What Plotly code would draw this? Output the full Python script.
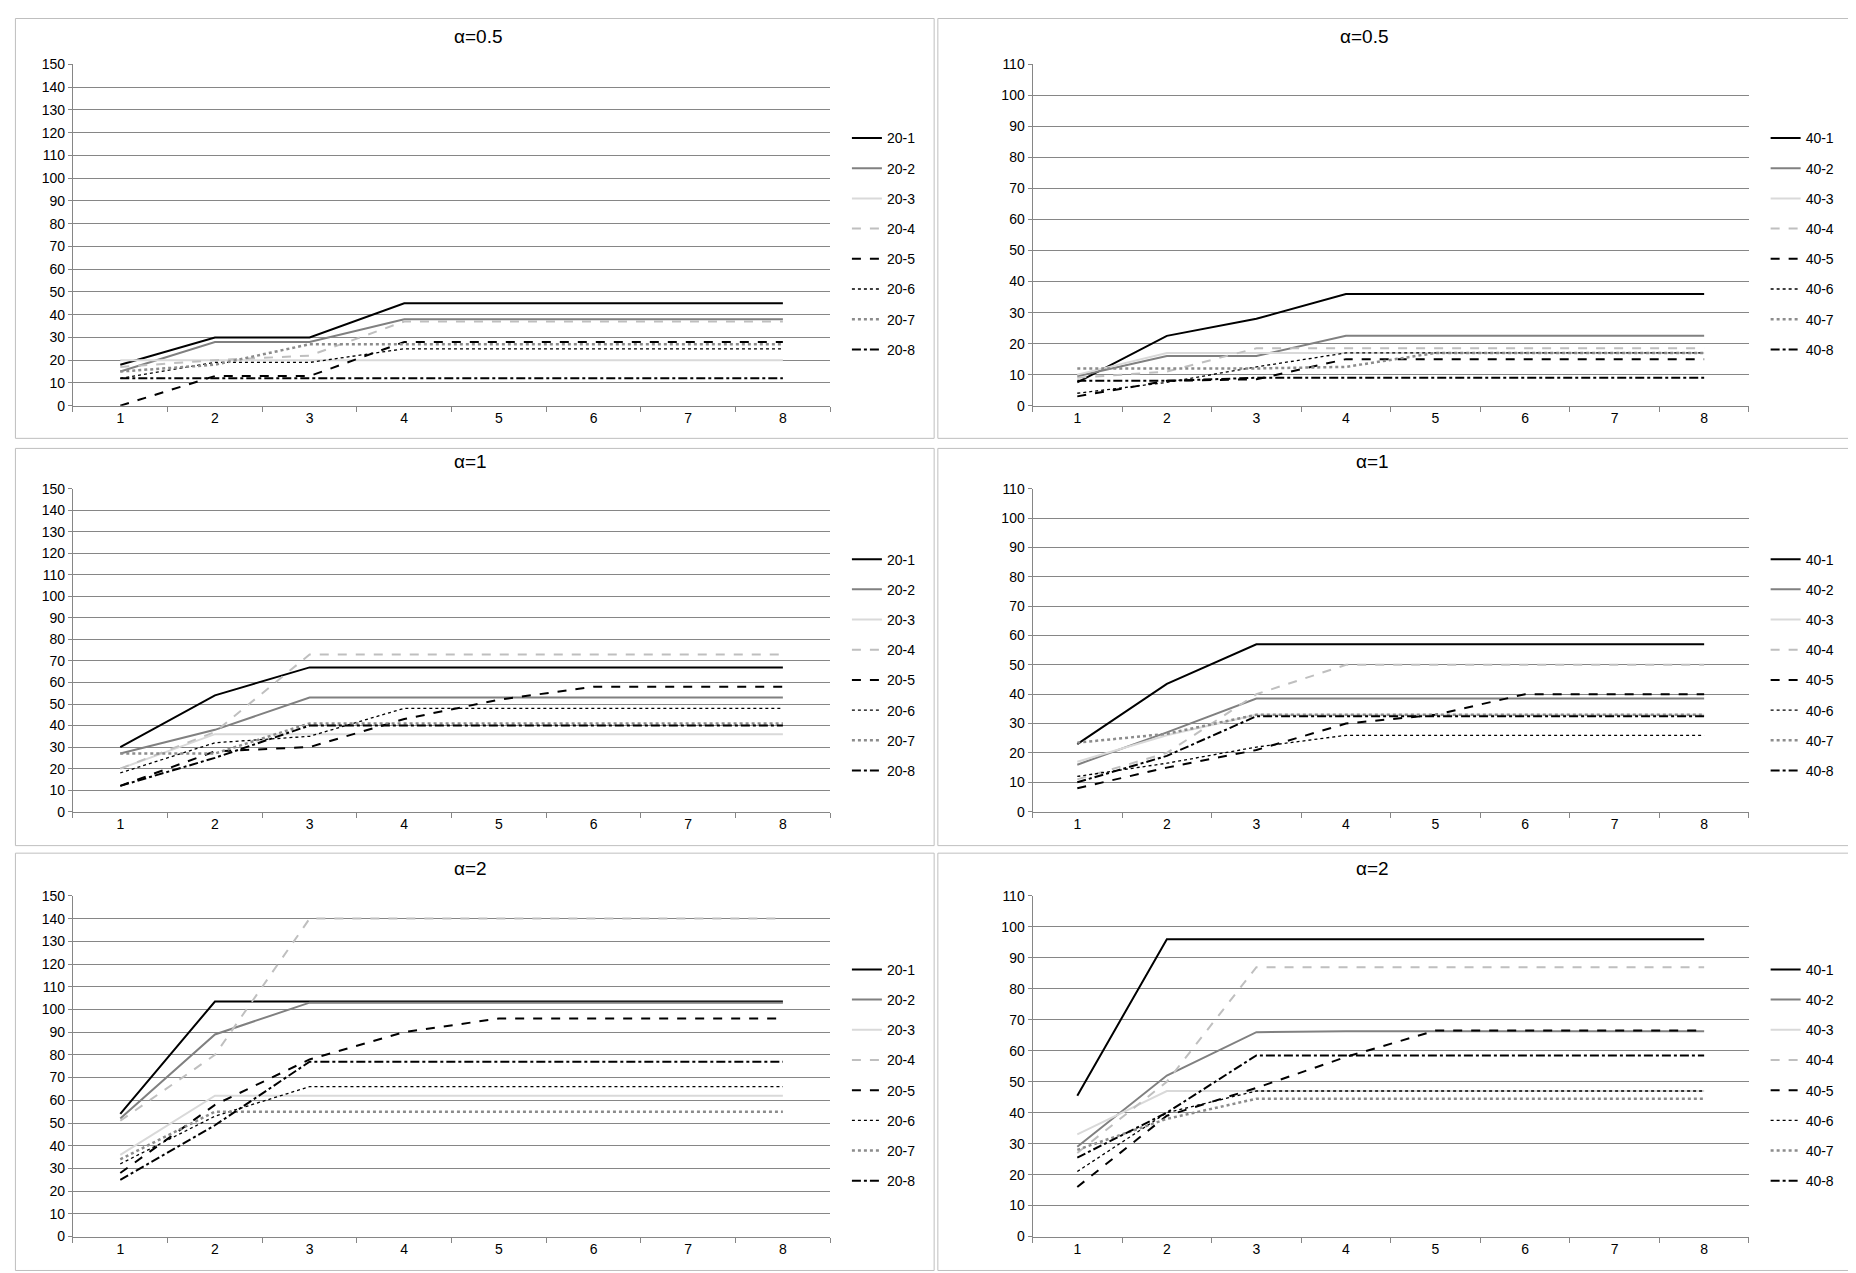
import plotly.graph_objects as go

x = [1, 2, 3, 4, 5, 6, 7, 8]

# alpha = 0.5, n = 20
a05_20 = [
    [18, 30, 30, 45, 45, 45, 45, 45],
    [15, 28, 28, 38, 38, 38, 38, 38],
    [20, 20, 20, 20, 20, 20, 20, 20],
    [17, 20, 22, 37, 37, 37, 37, 37],
    [0, 13, 13, 28, 28, 28, 28, 28],
    [12, 19, 19, 25, 25, 25, 25, 25],
    [15, 18, 27, 27, 27, 27, 27, 27],
    [12, 12, 12, 12, 12, 12, 12, 12],
]
# alpha = 0.5, n = 40
a05_40 = [
    [7.5, 22.5, 28, 36, 36, 36, 36, 36],
    [9.5, 16, 16, 22.5, 22.5, 22.5, 22.5, 22.5],
    [10, 17, 17, 17, 17, 17, 17, 17],
    [9, 11, 18.5, 18.5, 18.5, 18.5, 18.5, 18.5],
    [3, 8, 8.5, 15, 15, 15, 15, 15],
    [4, 7.5, 12.5, 17, 17, 17, 17, 17],
    [12, 12, 12, 12.5, 17, 17, 17, 17],
    [8, 8, 9, 9, 9, 9, 9, 9],
]
# alpha = 1, n = 20
a1_20 = [
    [30, 54, 67, 67, 67, 67, 67, 67],
    [27, 38, 53, 53, 53, 53, 53, 53],
    [20, 36, 36, 36, 36, 36, 36, 36],
    [20, 37, 73, 73, 73, 73, 73, 73],
    [12, 28, 30, 43, 52, 58, 58, 58],
    [18, 32, 35, 48, 48, 48, 48, 48],
    [27, 27, 41, 41, 41, 41, 41, 41],
    [12, 25, 40, 40, 40, 40, 40, 40],
]
# alpha = 1, n = 40
a1_40 = [
    [23, 43.5, 57, 57, 57, 57, 57, 57],
    [16, 27, 38.5, 38.5, 38.5, 38.5, 38.5, 38.5],
    [17, 26, 33, 33, 33, 33, 33, 33],
    [11, 20, 40, 50, 50, 50, 50, 50],
    [8, 15, 21, 30, 33, 40, 40, 40],
    [12, 16.5, 22, 26, 26, 26, 26, 26],
    [23.5, 26.5, 33, 33, 33, 33, 33, 33],
    [10, 19, 32.5, 32.5, 32.5, 32.5, 32.5, 32.5],
]
# alpha = 2, n = 20
a2_20 = [
    [54, 103.5, 103.5, 103.5, 103.5, 103.5, 103.5, 103.5],
    [52, 89, 103, 103, 103, 103, 103, 103],
    [36, 62, 62, 62, 62, 62, 62, 62],
    [51, 80, 140, 140, 140, 140, 140, 140],
    [28, 58, 78, 90, 96, 96, 96, 96],
    [32, 53, 66, 66, 66, 66, 66, 66],
    [34, 55, 55, 55, 55, 55, 55, 55],
    [25, 49, 77, 77, 77, 77, 77, 77],
]
# alpha = 2, n = 40
a2_40 = [
    [45.5, 96, 96, 96, 96, 96, 96, 96],
    [29, 52, 66, 66.3, 66.3, 66.3, 66.3, 66.3],
    [33, 47, 47, 47, 47, 47, 47, 47],
    [27, 50, 87, 87, 87, 87, 87, 87],
    [16, 39, 48, 58, 66.5, 66.5, 66.5, 66.5],
    [21, 40, 47, 47, 47, 47, 47, 47],
    [28, 38, 44.5, 44.5, 44.5, 44.5, 44.5, 44.5],
    [25.5, 40, 58.5, 58.5, 58.5, 58.5, 58.5, 58.5],
]

styles = [
    dict(color="#000000", dash="solid", width=2),
    dict(color="#808080", dash="solid", width=2),
    dict(color="#d9d9d9", dash="solid", width=2),
    dict(color="#bfbfbf", dash="dash", width=2),
    dict(color="#000000", dash="dash", width=2),
    dict(color="#000000", dash="dot", width=1.3),
    dict(color="#8c8c8c", dash="dot", width=2.5),
    dict(color="#000000", dash="dashdot", width=2),
]

panels = [
    (a05_20, "20", "α=0.5", 150, 0),
    (a05_40, "40", "α=0.5", 110, 1),
    (a1_20, "20", "α=1", 150, 0),
    (a1_40, "40", "α=1", 110, 1),
    (a2_20, "20", "α=2", 150, 0),
    (a2_40, "40", "α=2", 110, 1),
]

xdom = [(0.035, 0.443), (0.552, 0.938)]
ydom = [(0.690, 0.9615), (0.367, 0.624), (0.029, 0.300)]
legx = [0.452, 0.947]

font = "Liberation Sans Narrow, Liberation Sans, Arial"
fig = go.Figure()
layout = dict(
    width=1856, height=1273, margin=dict(l=0, r=0, t=0, b=0),
    paper_bgcolor="white", plot_bgcolor="white",
    font=dict(family=font, size=14, color="#000"),
    annotations=[], shapes=[],
)

for i, (data, n, title, ymax, col) in enumerate(panels):
    row = i // 2
    k = i + 1
    ax = "" if k == 1 else str(k)
    leg = "legend" if k == 1 else "legend%d" % k
    for j, s in enumerate(data):
        name = "%s-%d" % (n, j + 1)
        fig.add_trace(go.Scatter(
            x=x, y=s, mode="lines", name=name, legendgroup="p%d_%s" % (k, name),
            line=styles[j], xaxis="x" + ax, yaxis="y" + ax, legend=leg,
        ))
    y0, y1 = ydom[row]
    layout["xaxis" + ax] = dict(
        domain=xdom[col], anchor="y" + ax, range=[0.5, 8.5],
        tickvals=x, ticks="", showgrid=False, showline=True,
        linecolor="#868686", zeroline=False,
        minor=dict(ticks="outside", tick0=0.5, dtick=1, ticklen=5,
                   tickcolor="#868686", showgrid=False),
        tickfont=dict(size=14),
    )
    layout["yaxis" + ax] = dict(
        domain=[y0, y1], anchor="x" + ax, range=[0, ymax], dtick=10,
        showgrid=True, gridcolor="#868686", gridwidth=1, showline=True,
        linecolor="#868686", ticks="outside", ticklen=4, tickcolor="#868686",
        zeroline=False, tickfont=dict(size=14),
    )
    layout[leg] = dict(
        x=legx[col], y=(y0 + (y1 - y0) * 0.83), xanchor="left", yanchor="top",
        font=dict(size=14), bgcolor="rgba(0,0,0,0)", tracegroupgap=9,
    )
    layout["annotations"].append(dict(
        text=title, xref="paper", yref="paper", showarrow=False,
        x=(xdom[col][0] + xdom[col][1]) / 2, y=y1 + 0.012,
        yanchor="bottom", font=dict(size=19, family=font),
    ))

# panel frames
for r in range(3):
    top = [1.0, 0.658, 0.336][r]
    bot = [0.662, 0.338, 0.0][r]
    for c, (xa, xb) in enumerate([(0.004, 0.499), (0.501, 0.998)]):
        layout["shapes"].append(dict(
            type="rect", xref="paper", yref="paper", x0=xa, x1=xb,
            y0=bot + 0.002, y1=top - 0.002, line=dict(color="#bfbfbf", width=1),
        ))

fig.update_layout(**layout)
fig.write_html("out.html")
